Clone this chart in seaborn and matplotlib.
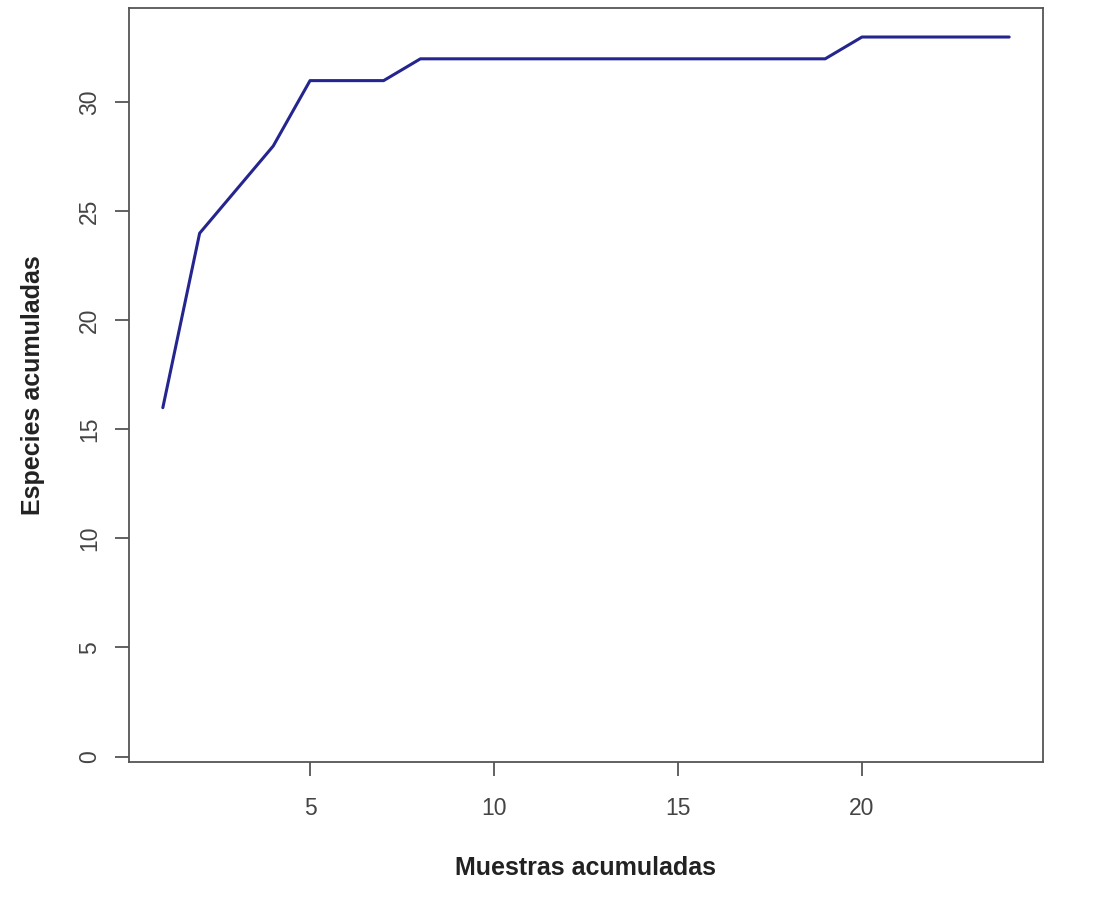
import matplotlib
matplotlib.use("Agg")
import matplotlib.pyplot as plt
import seaborn as sns
import pandas as pd

# Accumulated species per accumulated sample
muestras = list(range(1, 25))
especies = [16, 24, 26, 28, 31, 31, 31, 32, 32, 32, 32, 32,
            32, 32, 32, 32, 32, 32, 32, 33, 33, 33, 33, 33]
x_ticks = [5, 10, 15, 20]
y_ticks = [0, 5, 10, 15, 20, 25, 30]

df = pd.DataFrame({"muestras": muestras, "especies": especies})

sns.set_style("white")
plt.rcParams["font.family"] = ["Liberation Sans", "DejaVu Sans"]

fig = plt.figure(figsize=(11.09, 9.11), dpi=100)
ax = fig.add_axes([0.1163, 0.1636, 0.8242, 0.8276])

sns.lineplot(data=df, x="muestras", y="especies", ax=ax,
             color="#25258f", linewidth=2.2)

# R style axis extension
ax.set_xlim(1 - 0.04 * 23, 24 + 0.04 * 23)
ax.set_ylim(-0.25, 34.33)
ax.set_xticks(x_ticks)
ax.set_yticks(y_ticks)

grey = "#555555"
for s in ax.spines.values():
    s.set_color(grey)
    s.set_linewidth(1.3)
ax.tick_params(axis="both", direction="out", length=10, width=1.3,
               color=grey, labelcolor="#444444", labelsize=16.5,
               bottom=True, left=True)
ax.tick_params(axis="x", pad=15)
ax.tick_params(axis="y", pad=10)
for lab in ax.get_yticklabels():
    lab.set_rotation(90)
    lab.set_va("center")

ax.set_xlabel("Muestras acumuladas", fontsize=18, fontweight="bold",
              color="#222222", labelpad=26)
ax.set_ylabel("Especies acumuladas", fontsize=18, fontweight="bold",
              color="#222222", labelpad=24)

fig.savefig("out.png", dpi=100)
